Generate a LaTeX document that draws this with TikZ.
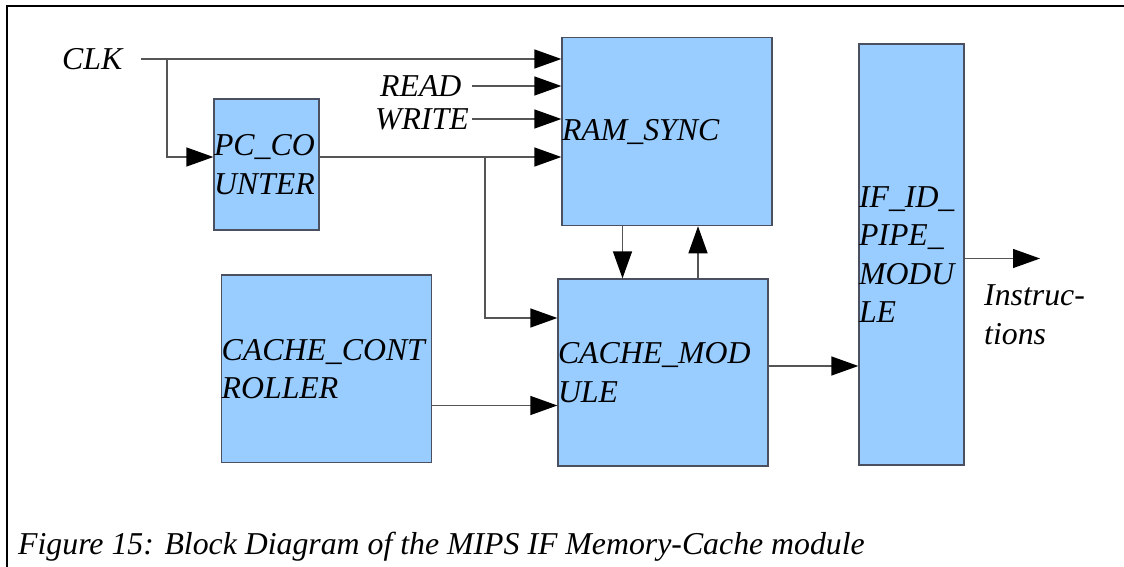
\documentclass[tikz,border=0pt]{standalone}
\usepackage{fontspec}
\setmainfont{Liberation Serif}
\usetikzlibrary{arrows.meta}
\definecolor{boxblue}{HTML}{99CCFF}
\definecolor{edgegray}{HTML}{4A5060}
\definecolor{wiregray}{HTML}{555555}
\begin{document}
\begin{tikzpicture}[x=1pt,y=-1pt,
  font=\fontsize{31.8}{38.5}\selectfont\itshape,
  blk/.style={draw=edgegray, line width=1.3pt, fill=boxblue, inner sep=0pt, align=left, anchor=center},
  wire/.style={draw=wiregray, line width=1.3pt},
  arr/.style={wire, -{Triangle[length=27pt,width=19pt,color=black]}},
  lbl/.style={inner sep=0pt, anchor=base west}]
\useasboundingbox (0,0) rectangle (1124,567);
% frame
\draw[line width=2pt] (6.5,567) -- (6.5,6) -- (1124,6);
% blocks
\node[blk, text width=210pt, minimum height=188pt] (ram) at (667,131.6) {RAM\_SYNC};
\node[blk, text width=105pt, minimum height=131pt] (pc) at (266.5,164.5) {PC\_CO\\UNTER};
\node[blk, text width=210pt, minimum height=187.7pt] (cc) at (326.7,368.9) {CACHE\_CONT\\ROLLER};
\node[blk, text width=210pt, minimum height=187pt] (cm) at (663,372.5) {CACHE\_MOD\\ULE};
\node[blk, text width=105pt, minimum height=421pt] (ifid) at (911.5,254.5) {IF\_ID\_\\PIPE\_\\MODU\\LE};
% labels
\node[lbl] (clk) at (62,70) {CLK};
\node[lbl] (read) at (380,96.5) {READ};
\node[lbl] (write) at (375,129.5) {WRITE};
\node[lbl] (instr1) at (984,305) {Instruc-};
\node[lbl] (instr2) at (984,344) {tions};
\node[lbl] (caption) at (18,554) {Figure 15: Block Diagram of the MIPS IF Memory-Cache module};
% helper coordinates
\coordinate (clkout) at (141,59);
\coordinate (clkbr) at (167,59);
\coordinate (readout) at (472,86);
\coordinate (writeout) at (472,119);
\coordinate (pcy) at (0,157);
\coordinate (pcbr) at (485,157);
\coordinate (cmy) at (0,318);
\coordinate (ccy) at (0,405.5);
\coordinate (dnx) at (622.5,0);
\coordinate (upx) at (698,0);
\coordinate (cmout) at (0,366);
\coordinate (ifend) at (1040,258.5);
% connectors
\draw[arr] (clkout) -- (clkout -| ram.west);
\draw[arr] (clkbr) |- (pc.west |- pcy);
\draw[arr] (readout) -- (readout -| ram.west);
\draw[arr] (writeout) -- (writeout -| ram.west);
\draw[arr] (pc.east |- pcy) -- (ram.west |- pcy);
\draw[arr] (pcbr) |- (cm.west |- cmy);
\draw[arr] (cc.east |- ccy) -- (cm.west |- ccy);
\draw[arr] (ram.south -| dnx) -- (cm.north -| dnx);
\draw[arr] (cm.north -| upx) -- (ram.south -| upx);
\draw[arr] (cm.east |- cmout) -- (ifid.west |- cmout);
\draw[arr] (ifid.east |- ifend) -- (ifend);
\end{tikzpicture}
\end{document}
